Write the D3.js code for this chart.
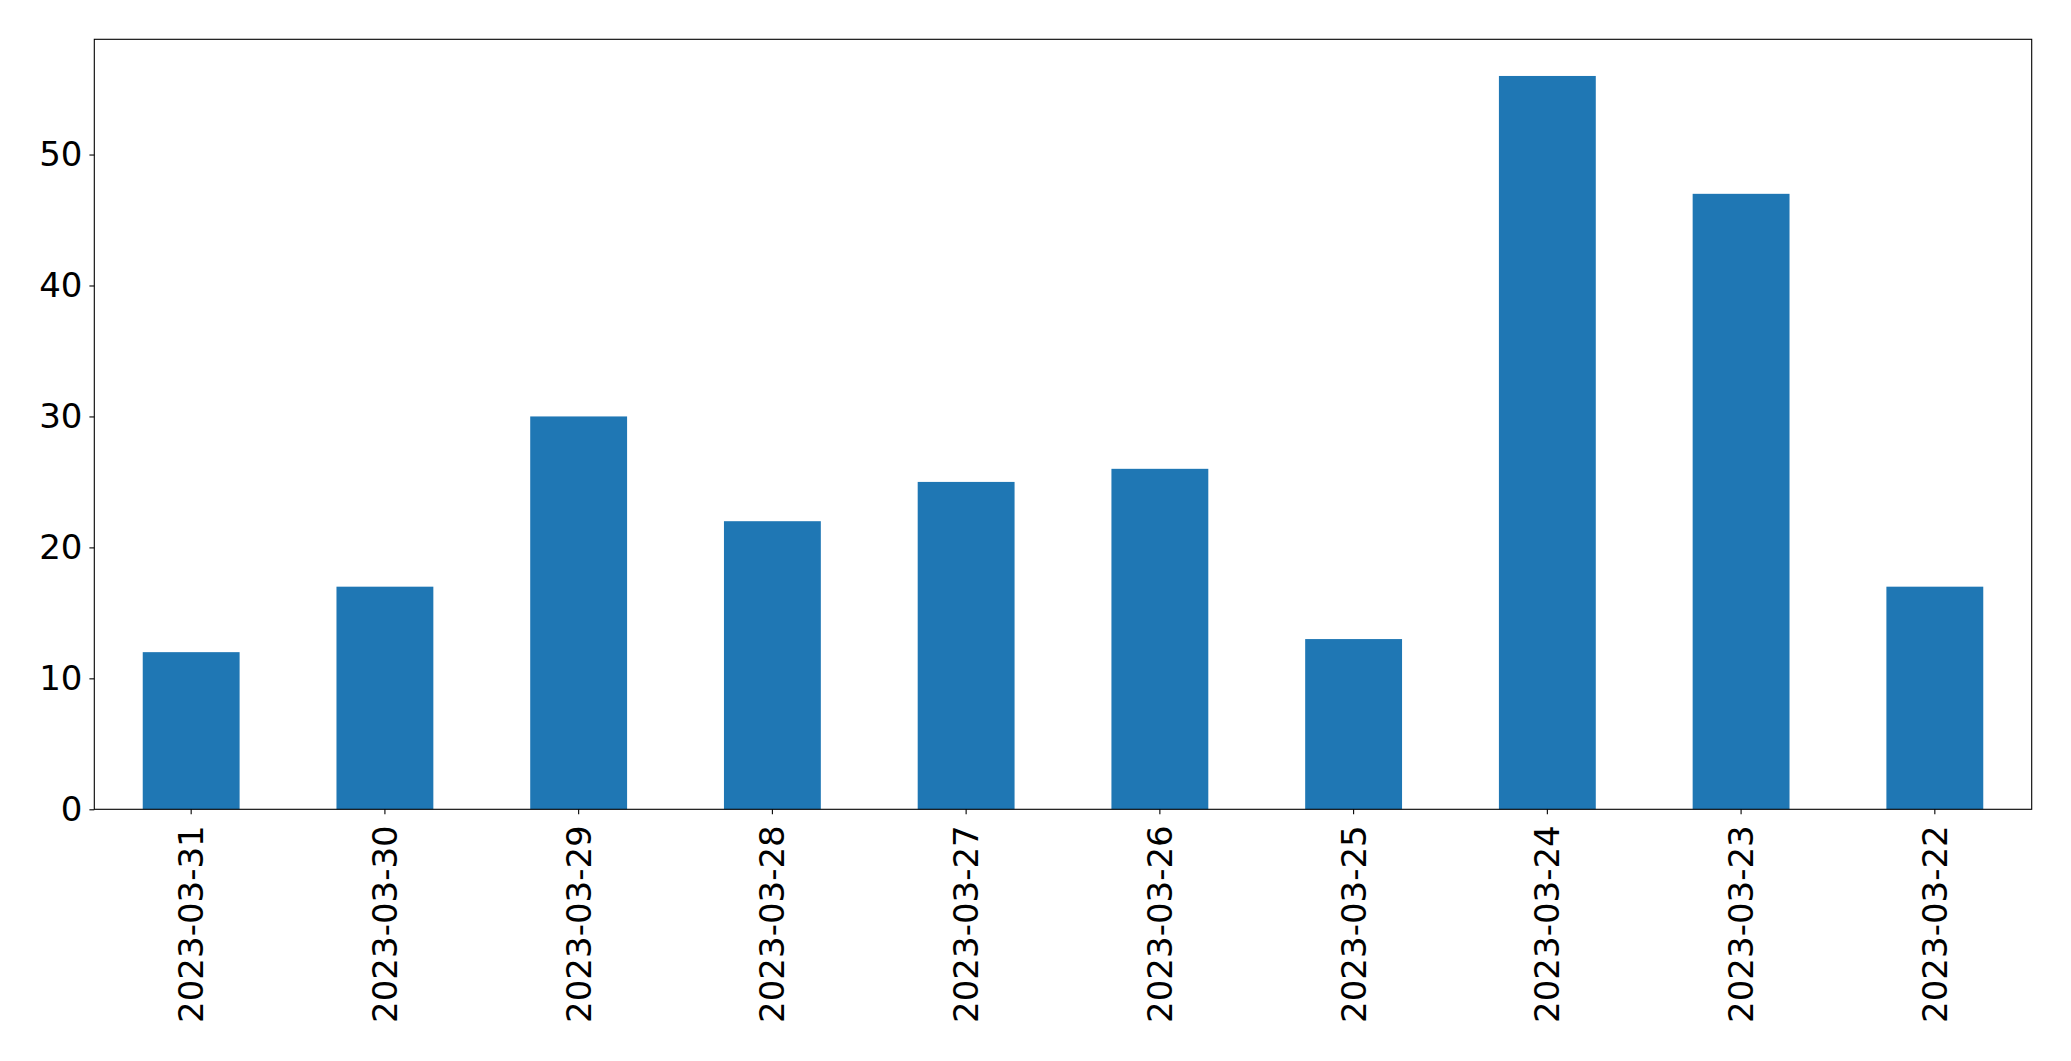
<!DOCTYPE html>
<html>
<head>
<meta charset="utf-8">
<script src="https://cdn.jsdelivr.net/npm/d3@7"></script>
<style>
  body { margin: 0; background: #fff; }
  svg text { font-family: "DejaVu Sans", sans-serif; }
</style>
</head>
<body>
<script>
const dates = ["2023-03-31", "2023-03-30", "2023-03-29", "2023-03-28", "2023-03-27",
               "2023-03-26", "2023-03-25", "2023-03-24", "2023-03-23", "2023-03-22"];
const counts = [12, 17, 30, 22, 25, 26, 13, 56, 47, 17];
const yTicks = [0, 10, 20, 30, 40, 50];

const W = 2071, H = 1061;
const margin = {top: 39.3, right: 39.3, bottom: 251.7, left: 94.3};
const width = W - margin.left - margin.right;
const height = H - margin.top - margin.bottom;

const x = d3.scaleBand()
  .domain(dates)
  .range([0, width])
  .paddingInner(0.5)
  .paddingOuter(0.25);

const y = d3.scaleLinear()
  .domain([0, d3.max(counts) * 1.05])
  .range([height, 0]);

const svg = d3.select("body").append("svg")
  .attr("width", W)
  .attr("height", H)
  .append("g")
  .attr("transform", "translate(" + margin.left + "," + margin.top + ")");

svg.selectAll("rect.bar")
  .data(dates)
  .enter()
  .append("rect")
  .attr("class", "bar")
  .attr("x", d => x(d))
  .attr("width", x.bandwidth())
  .attr("y", (d, i) => y(counts[i]))
  .attr("height", (d, i) => height - y(counts[i]))
  .attr("fill", "#1f77b4");

// frame
svg.append("rect")
  .attr("x", 0)
  .attr("y", 0)
  .attr("width", width)
  .attr("height", height)
  .attr("fill", "none")
  .attr("stroke", "#000")
  .attr("stroke-width", 1.1);

const xAxis = d3.axisBottom(x).tickSize(4.9).tickPadding(4.9);
const gx = svg.append("g")
  .attr("transform", "translate(0," + height + ")")
  .call(xAxis);
gx.select(".domain").remove();
gx.selectAll(".tick line").attr("stroke-width", 1.1);
gx.selectAll(".tick text")
  .attr("font-size", "34px")
  .attr("fill", "#000")
  .attr("text-anchor", "end")
  .attr("transform", "rotate(-90)")
  .attr("x", -16)
  .attr("y", 0)
  .attr("dy", "0.35em");

const yAxis = d3.axisLeft(y).tickValues(yTicks).tickSize(4.9).tickPadding(7);
const gy = svg.append("g").call(yAxis);
gy.select(".domain").remove();
gy.selectAll(".tick line").attr("stroke-width", 1.1);
gy.selectAll(".tick text")
  .attr("font-size", "34px")
  .attr("fill", "#000");
</script>
</body>
</html>
